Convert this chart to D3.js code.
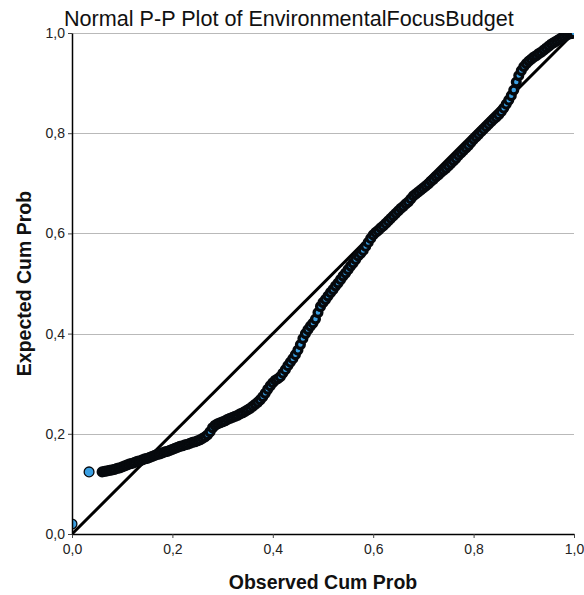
<!DOCTYPE html>
<html>
<head>
<meta charset="utf-8">
<script src="https://cdn.jsdelivr.net/npm/d3@7"></script>
<style>
  html, body { margin: 0; padding: 0; background: #fff; }
  svg { display: block; font-family: "Liberation Sans", Arial, sans-serif; }
</style>
</head>
<body>
<svg id="chart" width="584" height="595"></svg>
<script>
// ---- data ----
const title = "Normal P-P Plot of EnvironmentalFocusBudget";
const xTitle = "Observed Cum Prob";
const yTitle = "Expected Cum Prob";
const tickValues = [0, 0.2, 0.4, 0.6, 0.8, 1.0];
const tickLabels = ["0,0", "0,2", "0,4", "0,6", "0,8", "1,0"];

const observed = [
  0.000, 0.034,
  0.060, 0.065, 0.070, 0.075, 0.080, 0.085, 0.090, 0.095, 0.100, 0.105,
  0.110, 0.115, 0.120, 0.125, 0.130, 0.135, 0.140, 0.145, 0.150, 0.155,
  0.160, 0.165, 0.170, 0.175, 0.180, 0.185, 0.190, 0.195, 0.200, 0.205,
  0.210, 0.215, 0.220, 0.225, 0.230, 0.235, 0.240, 0.245, 0.250, 0.255,
  0.260, 0.265, 0.270, 0.275, 0.280, 0.285, 0.290, 0.295, 0.300, 0.305,
  0.310, 0.315, 0.320, 0.325, 0.330, 0.335, 0.340, 0.345, 0.350, 0.355,
  0.360, 0.365, 0.370, 0.375, 0.380, 0.385, 0.390, 0.395, 0.400, 0.405,
  0.410, 0.415, 0.420, 0.425, 0.430, 0.435, 0.440, 0.445, 0.450, 0.455,
  0.460, 0.465, 0.470, 0.475, 0.480, 0.485, 0.490, 0.495, 0.500, 0.505,
  0.510, 0.515, 0.520, 0.525, 0.530, 0.535, 0.540, 0.545, 0.550, 0.555,
  0.560, 0.565, 0.570, 0.575, 0.580, 0.585, 0.590, 0.595, 0.600, 0.605,
  0.610, 0.615, 0.620, 0.625, 0.630, 0.635, 0.640, 0.645, 0.650, 0.655,
  0.660, 0.665, 0.670, 0.675, 0.680, 0.685, 0.690, 0.695, 0.700, 0.705,
  0.710, 0.715, 0.720, 0.725, 0.730, 0.735, 0.740, 0.745, 0.750, 0.755,
  0.760, 0.765, 0.770, 0.775, 0.780, 0.785, 0.790, 0.795, 0.800, 0.805,
  0.810, 0.815, 0.820, 0.825, 0.830, 0.835, 0.840, 0.845, 0.850, 0.855,
  0.860, 0.865, 0.870, 0.875, 0.880, 0.885, 0.890, 0.895, 0.900, 0.905,
  0.910, 0.915, 0.920, 0.925, 0.930, 0.935, 0.940, 0.945, 0.950, 0.955,
  0.960, 0.965, 0.970, 0.975, 0.980, 0.985, 0.990, 0.995, 1.000
];
const expected = [
  0.020, 0.124,
  0.124, 0.125, 0.126, 0.127, 0.128, 0.129, 0.131, 0.132, 0.134, 0.136,
  0.138, 0.140, 0.141, 0.143, 0.145, 0.146, 0.148, 0.150, 0.151, 0.153,
  0.155, 0.157, 0.159, 0.160, 0.162, 0.164, 0.165, 0.167, 0.169, 0.171,
  0.173, 0.175, 0.176, 0.178, 0.179, 0.181, 0.183, 0.184, 0.186, 0.188,
  0.191, 0.194, 0.198, 0.204, 0.212, 0.217, 0.220, 0.222, 0.224, 0.226,
  0.229, 0.231, 0.233, 0.235, 0.237, 0.240, 0.242, 0.245, 0.248, 0.251,
  0.255, 0.259, 0.263, 0.268, 0.274, 0.281, 0.289, 0.296, 0.302, 0.307,
  0.310, 0.314, 0.321, 0.328, 0.336, 0.343, 0.350, 0.358, 0.367, 0.378,
  0.390, 0.400, 0.408, 0.415, 0.421, 0.429, 0.442, 0.454, 0.462, 0.468,
  0.475, 0.482, 0.488, 0.495, 0.501, 0.508, 0.515, 0.521, 0.528, 0.535,
  0.541, 0.548, 0.555, 0.560, 0.566, 0.574, 0.582, 0.590, 0.597, 0.602,
  0.606, 0.611, 0.615, 0.620, 0.625, 0.630, 0.635, 0.640, 0.645, 0.650,
  0.654, 0.659, 0.663, 0.669, 0.675, 0.679, 0.683, 0.687, 0.691, 0.695,
  0.699, 0.704, 0.708, 0.713, 0.717, 0.722, 0.726, 0.730, 0.735, 0.740,
  0.745, 0.750, 0.756, 0.761, 0.766, 0.771, 0.776, 0.782, 0.788, 0.793,
  0.798, 0.803, 0.808, 0.813, 0.818, 0.823, 0.828, 0.832, 0.837, 0.843,
  0.850, 0.858, 0.866, 0.875, 0.886, 0.902, 0.915, 0.925, 0.933, 0.939,
  0.944, 0.948, 0.952, 0.955, 0.959, 0.962, 0.966, 0.970, 0.974, 0.978,
  0.981, 0.984, 0.987, 0.990, 0.993, 0.996, 0.998, 0.999, 1.000
];
const refLine = [[0, 0], [1, 1]];

// ---- layout ----
const margin = { top: 33, right: 10, bottom: 61, left: 72 };
const W = 584, H = 595;
const w = W - margin.left - margin.right;
const h = H - margin.top - margin.bottom;

const svg = d3.select("#chart");
const x = d3.scaleLinear().domain([0, 1]).range([0, w]);
const y = d3.scaleLinear().domain([0, 1]).range([h, 0]);

const g = svg.append("g").attr("transform", `translate(${margin.left},${margin.top})`);

svg.append("defs").append("clipPath").attr("id", "plotclip")
  .append("rect").attr("x", 0).attr("y", 0).attr("width", w).attr("height", h);

// gridlines
g.append("g").selectAll("line")
  .data(tickValues.filter(d => d > 0))
  .join("line")
  .attr("x1", 0).attr("x2", w)
  .attr("y1", d => Math.round(y(d)) + 0.5).attr("y2", d => Math.round(y(d)) + 0.5)
  .attr("stroke", "#b9b9b9").attr("stroke-width", 1);

// reference diagonal
const plot = g.append("g").attr("clip-path", "url(#plotclip)");
plot.append("path")
  .datum(refLine)
  .attr("d", d3.line().x(d => x(d[0])).y(d => y(d[1])))
  .attr("stroke", "#000").attr("stroke-width", 3).attr("fill", "none");

// points: markers in a dense run overlap so heavily that their outlines
// dominate; isolated markers show their blue fill with a thin outline.
const pts = observed.map((o, i) => ({ o, e: expected[i], px: x(o), py: y(expected[i]) }));
pts.forEach((p, i) => {
  let nearest = Infinity;
  pts.forEach((q, j) => { if (i !== j) nearest = Math.min(nearest, Math.hypot(p.px - q.px, p.py - q.py)); });
  p.isolated = nearest > 8;
});
plot.append("g").selectAll("circle")
  .data(pts)
  .join("circle")
  .attr("cx", d => d.px).attr("cy", d => d.py)
  .attr("r", d => d.isolated ? 4.9 : 3.9)
  .attr("fill", "#3a9fe2")
  .attr("stroke", "#06090d")
  .attr("stroke-width", d => d.isolated ? 1.3 : 3.3);

// axes
const xAxis = g.append("g").attr("transform", `translate(0,${h})`)
  .call(d3.axisBottom(x).tickValues(tickValues).tickFormat((d, i) => tickLabels[i]).tickSize(4).tickSizeOuter(0));
const yAxis = g.append("g")
  .call(d3.axisLeft(y).tickValues(tickValues).tickFormat((d, i) => tickLabels[i]).tickSize(4).tickSizeOuter(0));

[xAxis, yAxis].forEach(a => {
  a.select(".domain").attr("stroke", "#000").attr("stroke-width", 1.5);
  a.selectAll(".tick line").attr("stroke", "#444");
  a.selectAll(".tick text")
    .attr("font-family", "'Liberation Sans', Arial, sans-serif")
    .attr("font-size", 14).attr("fill", "#222");
});
xAxis.selectAll(".tick text").attr("dy", "0.9em");

// titles
svg.append("text")
  .attr("x", 64).attr("y", 26)
  .attr("font-size", 21.6).attr("fill", "#111")
  .text(title);

svg.append("text")
  .attr("x", margin.left + w / 2).attr("y", 589)
  .attr("text-anchor", "middle")
  .attr("font-size", 19.5).attr("font-weight", "bold").attr("fill", "#111")
  .text(xTitle);

svg.append("text")
  .attr("transform", `translate(31,${margin.top + h / 2}) rotate(-90)`)
  .attr("text-anchor", "middle")
  .attr("font-size", 19.5).attr("font-weight", "bold").attr("fill", "#111")
  .text(yTitle);
</script>
</body>
</html>
